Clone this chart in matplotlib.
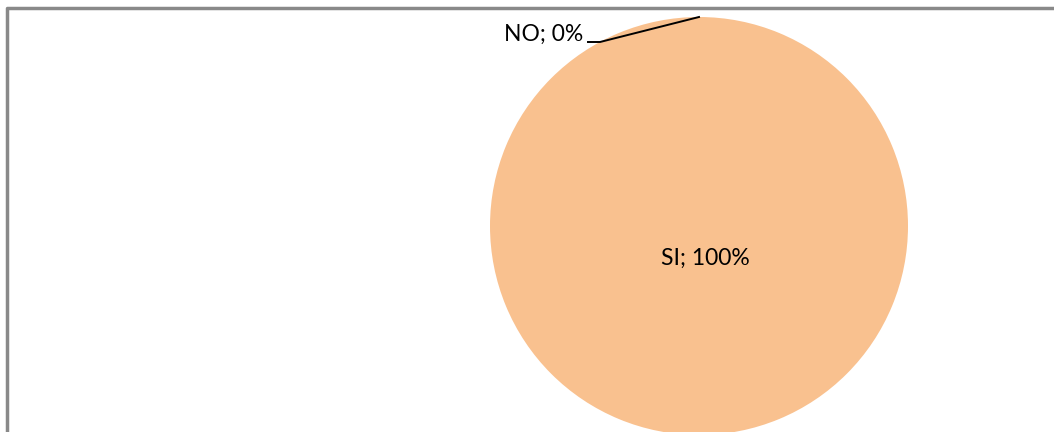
import matplotlib.pyplot as plt

# Dati
categorie = ["NO", "SI"]
valori = [0, 100]
colori = ["#4F81BD", "#F9C18F"]

fig = plt.figure(figsize=(10.54, 4.32), dpi=100)
ax = fig.add_axes([0, 0, 1, 1])

# Torta (centro e raggio in pixel della figura)
wedges, _ = ax.pie(valori, colors=colori, center=(699, 206), radius=209,
                   startangle=90, counterclock=False, frame=True)
ax.set_xlim(0, 1054)
ax.set_ylim(0, 432)
ax.set_aspect("equal")
ax.axis("off")

font = "Lato"
ax.text(705, 174, f"{categorie[1]}; {valori[1]}%", ha="center", va="center",
        fontsize=16.5, family=font, color="black")
ax.text(583, 398, f"{categorie[0]}; {valori[0]}%", ha="right", va="center",
        fontsize=16.5, family=font, color="black")
ax.plot([588, 600, 699], [390, 390, 415], color="black", lw=1.4)

# Bordo del grafico (solo sopra e a sinistra visibili)
ax.plot([6.5, 6.5, 1054], [0, 424.5, 424.5], color="#898989", lw=2.5,
        solid_capstyle="butt")

fig.savefig("out.png", dpi=100)
